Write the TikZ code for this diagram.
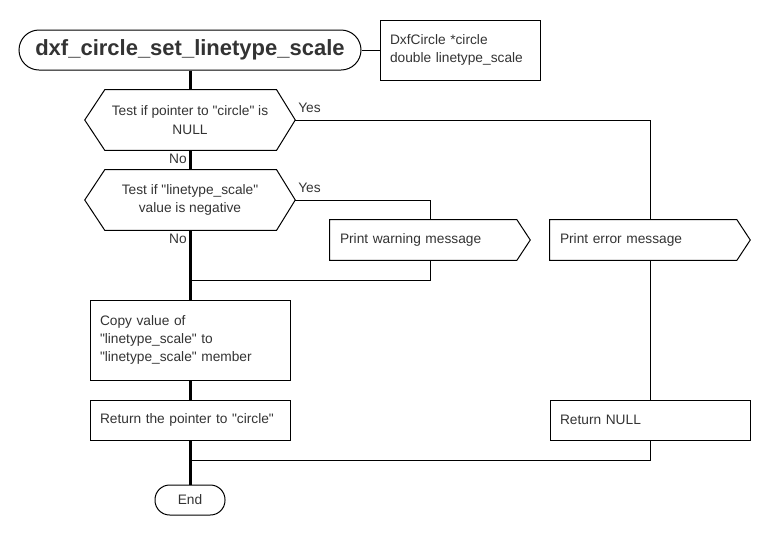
\documentclass[tikz,border=0pt]{standalone}
\usepackage{fontspec}
\setmainfont{Liberation Sans}
\usetikzlibrary{positioning}
\definecolor{txt}{HTML}{333333}
\newcommand{\dq}{\textquotedbl}
\begin{document}
\begin{tikzpicture}[x=0.75pt,y=-0.75pt,
  every node/.style={font=\fontsize{10.3pt}{13.8pt}\selectfont, text=txt},
  thin line/.style={draw=black, line width=0.75pt},
  thick line/.style={draw=black, line width=2.25pt},
  term/.style={draw=black, line width=0.75pt, rounded corners=15pt, align=center, inner sep=0pt},
  hexbox/.style={minimum width=157.5pt, minimum height=45pt, align=center, inner sep=0pt},
  procbox/.style={draw=black, line width=0.75pt, text width=135pt, inner xsep=7.5pt, inner ysep=0pt, align=left},
  sigbox/.style={text width=135pt, inner xsep=7.5pt, inner ysep=0pt, minimum height=30pt, align=left},
  lbl/.style={inner sep=0pt}
]
\useasboundingbox (0,0) rectangle (770,540);

% title and parameters
\node[term, minimum width=256.5pt, minimum height=30pt, font=\fontsize{16.5pt}{19pt}\selectfont\bfseries] (title) at (190,50) {dxf\_circle\_set\_linetype\_scale};
\node[procbox, text width=105pt, minimum height=45pt] (param) at (460,50) {DxfCircle *circle\\double linetype\_scale};

% decisions
\node[hexbox] (h1) at (190,120) {Test if pointer to \dq circle\dq{} is\\NULL};
\node[hexbox] (h2) at (190,200) {Test if \dq linetype\_scale\dq\\value is negative};
\foreach \n in {h1,h2}{
  \draw[thin line] (\n.west) -- ([xshift=15pt]\n.north west) -- ([xshift=-14pt]\n.north east) -- (\n.east) -- ([xshift=-14pt]\n.south east) -- ([xshift=15pt]\n.south west) -- cycle;
}

% signal boxes
\node[sigbox] (warn) at (430,240) {Print warning message};
\node[sigbox] (err) at (650,240) {Print error message};
\foreach \n in {warn,err}{
  \draw[thin line] (\n.north west) -- ([xshift=-10pt]\n.north east) -- (\n.east) -- ([xshift=-10pt]\n.south east) -- (\n.south west) -- cycle;
}

% process boxes
\node[procbox, minimum height=60pt] (copy) at (190,340) {Copy value of\\\dq linetype\_scale\dq{} to\\\dq linetype\_scale\dq{} member};
\node[procbox, minimum height=30pt] (ret) at (190,420) {Return the pointer to \dq circle\dq};
\node[procbox, minimum height=30pt] (retnull) at (650,420) {Return NULL};

% end
\node[term, minimum width=52.5pt, minimum height=22.5pt, rounded corners=11pt] (end) at (190,500) {End};

\coordinate (j1) at (190,280);
\coordinate (j2) at (190,460);

% main spine
\draw[thick line] (title.south) -- (h1.north);
\draw[thick line] (h1.south) -- (h2.north);
\draw[thick line] (h2.south) -- (copy.north);
\draw[thick line] (copy.south) -- (ret.north);
\draw[thick line] (ret.south) -- (end.north);

% thin connectors
\draw[thin line] (title.east) -- (param.west);
\draw[thin line] (h1.east) -| (err.north);
\draw[thin line] (h2.east) -| (warn.north);
\draw[thin line] (warn.south) |- (j1);
\draw[thin line] (err.south) -- (retnull.north);
\draw[thin line] (retnull.south) |- (j2);

% labels
\node[lbl, anchor=west] (y1) at (298,108) {Yes};
\node[lbl, anchor=west] (y2) at (298,188) {Yes};
\node[lbl, anchor=east] (n1) at (187,159) {No};
\node[lbl, anchor=east] (n2) at (187,239) {No};
\end{tikzpicture}
\end{document}
